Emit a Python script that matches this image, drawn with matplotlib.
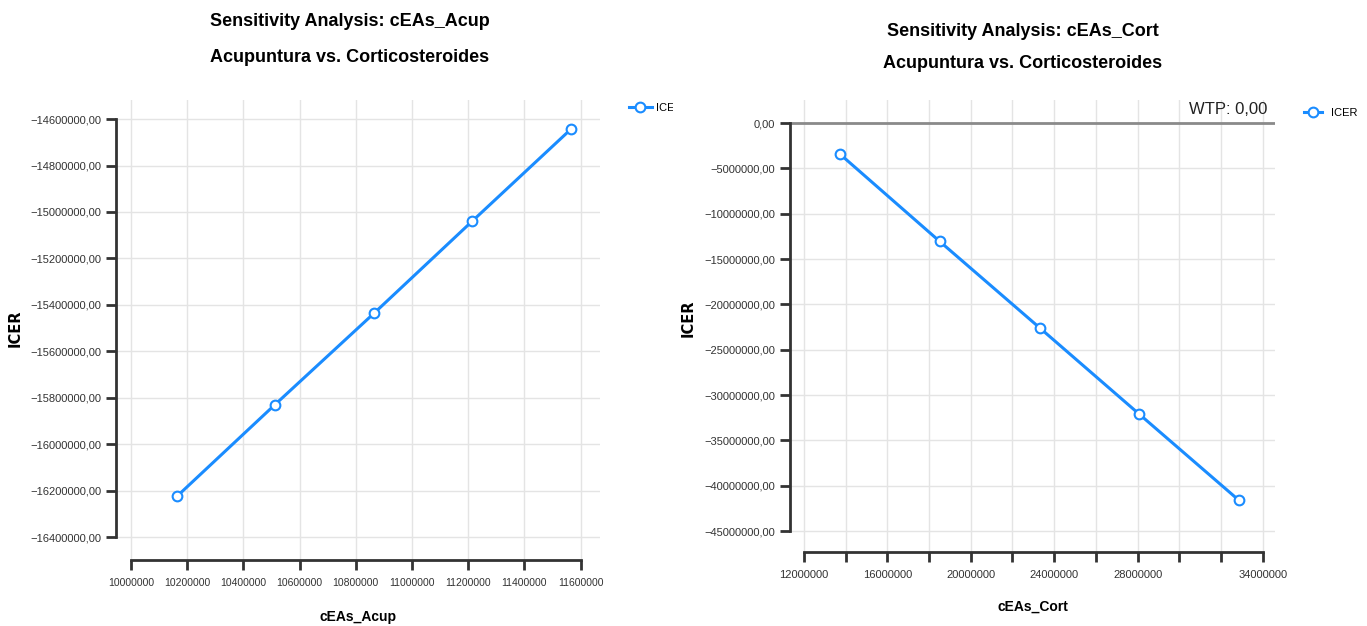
import matplotlib.pyplot as plt
from matplotlib.ticker import FixedLocator, FuncFormatter
from matplotlib.transforms import Bbox, TransformedBbox

# data
acup_x = [10164000, 10512000, 10865000, 11214000, 11566000]
acup_icer = [-16224000, -15830000, -15436000, -15040000, -14643000]

cort_x = [13730000, 18510000, 23300000, 28080000, 32870000]
cort_icer = [-3430000, -13050000, -22570000, -32100000, -41620000]

acup_xticks = [10000000 + 200000 * i for i in range(9)]
acup_yticks = [-14600000 - 200000 * i for i in range(10)]
cort_xticks = [12000000 + 2000000 * i for i in range(12)]
cort_xlabels = ['12000000', '', '16000000', '', '20000000', '', '24000000', '',
                '28000000', '', '', '34000000']
cort_yticks = [-5000000 * i for i in range(10)]
wtp = 0.0

blue = '#1a8cff'
narrow = ['Liberation Sans', 'DejaVu Sans']


def ylab(v, pos=None):
    s = f'{abs(v):.2f}'.replace('.', ',')
    return ('\u2212' + s) if v < 0 else s


def style(ax, xsize):
    for s in ['top', 'right']:
        ax.spines[s].set_visible(False)
    for s in ['left', 'bottom']:
        ax.spines[s].set_color('#333333')
        ax.spines[s].set_linewidth(2)
    ax.grid(True, color='#e4e4e4', lw=1)
    ax.set_axisbelow(True)
    ax.tick_params(axis='both', colors='#333333', width=2, length=7, labelcolor='#333333')
    ax.tick_params(axis='x', pad=6)
    for lab in ax.get_yticklabels():
        lab.set_family(narrow)
        lab.set_fontsize(8)
    for lab in ax.get_xticklabels():
        lab.set_family(narrow)
        lab.set_fontsize(xsize)


fig = plt.figure(figsize=(13.67, 6.26), dpi=100)

# left chart
ax1 = fig.add_axes([0.0849, 0.1054, 0.354, 0.7348])
ax1.plot(acup_x, acup_icer, color=blue, lw=2.2, marker='o', ms=7, mfc='white',
         mec=blue, mew=1.5, label='ICER')
ax1.set_xlim(9946600, 11669000)
ax1.set_ylim(-16499000, -14518000)
ax1.xaxis.set_major_locator(FixedLocator(acup_xticks))
ax1.yaxis.set_major_locator(FixedLocator(acup_yticks))
ax1.xaxis.set_major_formatter(FuncFormatter(lambda v, p: f'{v:.0f}'))
ax1.yaxis.set_major_formatter(FuncFormatter(ylab))
ax1.spines['left'].set_bounds(acup_yticks[-1], acup_yticks[0])
ax1.spines['bottom'].set_bounds(acup_xticks[0], acup_xticks[-1])
style(ax1, 7.5)
leg1 = ax1.legend(loc='upper left', bbox_to_anchor=(1.04, 1.015), frameon=False,
                  handlelength=2.0, handletextpad=0.4, prop={'family': narrow, 'size': 8})
# the left panel is cut off at the right edge in the source image
clip = TransformedBbox(Bbox([[0, 0], [673 / 1367, 1]]), fig.transFigure)
for t in leg1.get_texts():
    t.set_clip_box(clip)
    t.set_clip_on(True)

# right chart
ax2 = fig.add_axes([0.5779, 0.1182, 0.3548, 0.7220])
ax2.axhline(wtp, color='#8a8a8a', lw=2, zorder=1)
ax2.text(0.985, 0.978, 'WTP: 0,00', transform=ax2.transAxes, ha='right', va='center',
         fontsize=12, color='#222222', fontfamily='Liberation Sans', clip_on=True)
ax2.plot(cort_x, cort_icer, color=blue, lw=2.2, marker='o', ms=7, mfc='white',
         mec=blue, mew=1.5, label='ICER', zorder=3)
ax2.set_xlim(11330000, 34590000)
ax2.set_ylim(-47300000, 2540000)
ax2.xaxis.set_major_locator(FixedLocator(cort_xticks))
ax2.set_xticklabels(cort_xlabels)
ax2.yaxis.set_major_locator(FixedLocator(cort_yticks))
ax2.yaxis.set_major_formatter(FuncFormatter(ylab))
ax2.spines['left'].set_bounds(cort_yticks[-1], cort_yticks[0])
ax2.spines['bottom'].set_bounds(cort_xticks[0], cort_xticks[-1])
style(ax2, 8)
ax2.legend(loc='upper left', bbox_to_anchor=(1.04, 1.005), frameon=False,
           handlelength=1.6, prop={'family': narrow, 'size': 8})

# titles and axis labels
fig.text(350 / 1367, 1 - 22 / 626, 'Sensitivity Analysis: cEAs_Acup', ha='center', va='center',
         fontsize=13, fontweight='bold', family=narrow)
fig.text(350 / 1367, 1 - 57 / 626, 'Acupuntura vs. Corticosteroides', ha='center', va='center',
         fontsize=13, fontweight='bold', family=narrow)
fig.text(1023 / 1367, 1 - 32 / 626, 'Sensitivity Analysis: cEAs_Cort', ha='center', va='center',
         fontsize=13, fontweight='bold', family=narrow)
fig.text(1023 / 1367, 1 - 63 / 626, 'Acupuntura vs. Corticosteroides', ha='center', va='center',
         fontsize=13, fontweight='bold', family=narrow)

fig.text(15 / 1367, 1 - 328 / 626, 'ICER', rotation=90, ha='center', va='center',
         fontsize=10.5, fontweight='bold')
fig.text(688 / 1367, 1 - 318 / 626, 'ICER', rotation=90, ha='center', va='center',
         fontsize=10.5, fontweight='bold')
fig.text(358 / 1367, 1 - 617 / 626, 'cEAs_Acup', ha='center', va='center',
         fontsize=10, fontweight='bold', family=narrow)
fig.text(1033 / 1367, 1 - 607 / 626, 'cEAs_Cort', ha='center', va='center',
         fontsize=10, fontweight='bold', family=narrow)

fig.savefig('out.png', dpi=100)
